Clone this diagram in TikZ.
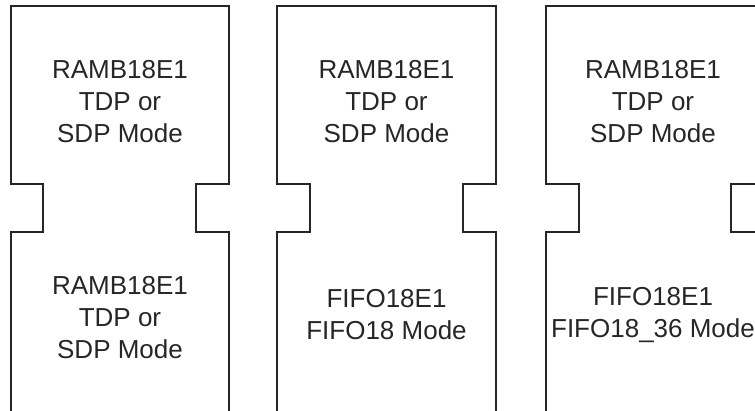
\documentclass[tikz,border=0pt]{standalone}
\usepackage{fontspec}
\setmainfont{Liberation Sans}
\tikzset{
  blockline/.style={draw=black!85, line width=1.5pt, line join=miter},
  lbl/.style={align=center, font=\fontsize{26}{32}\selectfont, inner sep=0pt, text=black!85}
}
\begin{document}
\begin{tikzpicture}[x=1pt,y=-1pt]
\useasboundingbox (0,0) rectangle (755,410);
\clip (0,0) rectangle (755,410);
% block 1
\draw[blockline] (11,412) -- (11,232) -- (43,232) -- (43,184) -- (11,184) -- (11,6)
  -- (229,6) -- (229,184) -- (196,184) -- (196,232) -- (229,232) -- (229,412);
% block 2
\draw[blockline] (277,412) -- (277,232) -- (310,232) -- (310,184) -- (277,184) -- (277,6)
  -- (496,6) -- (496,184) -- (463,184) -- (463,232) -- (496,232) -- (496,412);
% block 3
\draw[blockline] (546,412) -- (546,232) -- (579,232) -- (579,184) -- (546,184) -- (546,6)
  -- (764,6) -- (764,184) -- (731,184) -- (731,232) -- (764,232) -- (764,412);
% labels
\node[lbl] (t1) at (120,102) {RAMB18E1\\TDP or\\SDP Mode};
\node[lbl] (b1) at (120,318) {RAMB18E1\\TDP or\\SDP Mode};
\node[lbl] (t2) at (386.5,102) {RAMB18E1\\TDP or\\SDP Mode};
\node[lbl] (b2) at (386.5,315) {FIFO18E1\\FIFO18 Mode};
\node[lbl] (t3) at (653,102) {RAMB18E1\\TDP or\\SDP Mode};
\node[lbl] (b3) at (653,315) {FIFO18E1\\FIFO18\_36 Mode};
\end{tikzpicture}
\end{document}
